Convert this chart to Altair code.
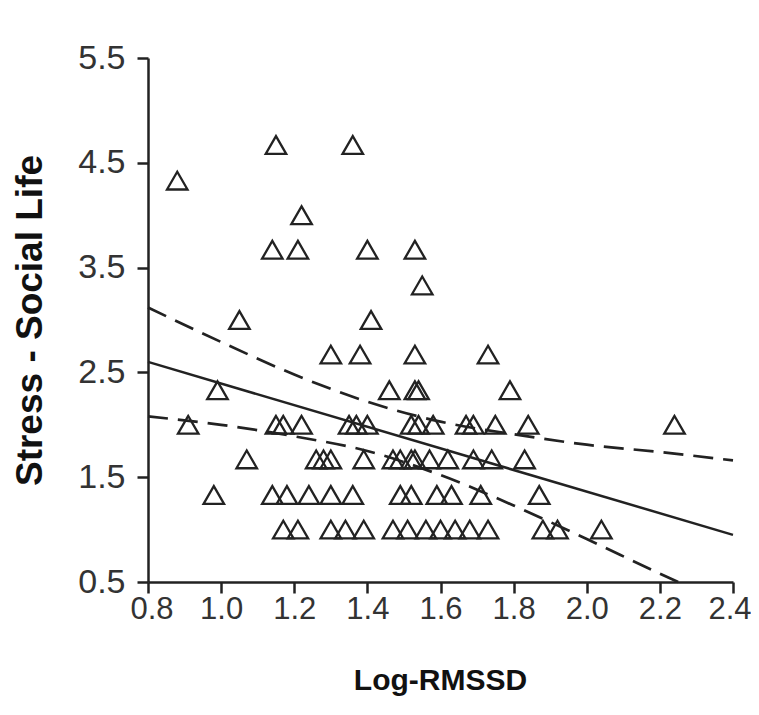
import altair as alt
import pandas as pd

# Scatter points (Log-RMSSD, Stress - Social Life)
log_rmssd = [
    1.15, 1.36,
    0.88,
    1.22,
    1.14, 1.21, 1.40, 1.53,
    1.55,
    1.05, 1.41,
    1.30, 1.38, 1.53, 1.73,
    0.99, 1.46, 1.53, 1.54, 1.79,
    0.91, 1.15, 1.17, 1.22, 1.35, 1.37, 1.40, 1.52, 1.54, 1.58, 1.67, 1.69, 1.75, 1.84, 2.24,
    1.07, 1.26, 1.28, 1.30, 1.39, 1.47, 1.49, 1.52, 1.53, 1.57, 1.62, 1.69, 1.74, 1.83,
    0.98, 1.14, 1.18, 1.24, 1.30, 1.36, 1.49, 1.52, 1.59, 1.63, 1.71, 1.87,
    1.17, 1.21, 1.30, 1.34, 1.39, 1.47, 1.51, 1.56, 1.60, 1.64, 1.68, 1.73, 1.88, 1.92, 2.04,
]
stress = [
    4.67, 4.67,
    4.33,
    4.00,
    3.67, 3.67, 3.67, 3.67,
    3.33,
    3.00, 3.00,
    2.67, 2.67, 2.67, 2.67,
    2.33, 2.33, 2.33, 2.33, 2.33,
    2.00, 2.00, 2.00, 2.00, 2.00, 2.00, 2.00, 2.00, 2.00, 2.00, 2.00, 2.00, 2.00, 2.00, 2.00,
    1.67, 1.67, 1.67, 1.67, 1.67, 1.67, 1.67, 1.67, 1.67, 1.67, 1.67, 1.67, 1.67, 1.67,
    1.33, 1.33, 1.33, 1.33, 1.33, 1.33, 1.33, 1.33, 1.33, 1.33, 1.33, 1.33,
    1.00, 1.00, 1.00, 1.00, 1.00, 1.00, 1.00, 1.00, 1.00, 1.00, 1.00, 1.00, 1.00, 1.00, 1.00,
]

# Regression line and confidence band
fit_x = [0.8, 2.4]
fit_y = [2.60, 0.95]
upper_x = [0.8, 1.0, 1.2, 1.4, 1.6, 1.8, 2.0, 2.2, 2.4]
upper_y = [3.12, 2.79, 2.48, 2.22, 2.03, 1.91, 1.81, 1.74, 1.66]
lower_x = [0.8, 1.0, 1.2, 1.4, 1.6, 1.8, 2.0, 2.2, 2.25]
lower_y = [2.08, 2.00, 1.89, 1.75, 1.52, 1.23, 0.91, 0.58, 0.50]

x_ticks = [0.8, 1.0, 1.2, 1.4, 1.6, 1.8, 2.0, 2.2, 2.4]
y_ticks = [0.5, 1.5, 2.5, 3.5, 4.5, 5.5]

pts = pd.DataFrame({"x": log_rmssd, "y": stress})
fit = pd.DataFrame({"x": fit_x, "y": fit_y})
up = pd.DataFrame({"x": upper_x, "y": upper_y})
lo = pd.DataFrame({"x": lower_x, "y": lower_y})

FONT = "Liberation Sans"
INK = "#222222"

xs = alt.Scale(domain=[0.8, 2.4], nice=False, zero=False)
ys = alt.Scale(domain=[0.5, 5.5], nice=False, zero=False)

x_axis = alt.Axis(
    values=x_ticks, format=".1f", title="Log-RMSSD",
    labelFlush=True, labelFlushOffset=18, labelFontSize=31, labelPadding=1,
    titleFontSize=30,
    titleX=292, titleY=98, titleAlign="center", titleBaseline="middle",
)
y_axis = alt.Axis(
    values=y_ticks, format=".1f", title="Stress - Social Life",
    labelFlush=False, labelFontSize=34, labelPadding=12,
    titleFontSize=37,
    titleX=-118, titleY=262, titleAngle=-90, titleAlign="center", titleBaseline="middle",
)

points = alt.Chart(pts).mark_point(
    shape="triangle-up", size=420, filled=False, stroke=INK, strokeWidth=2.3, opacity=1
).encode(
    x=alt.X("x:Q", scale=xs, axis=x_axis),
    y=alt.Y("y:Q", scale=ys, axis=y_axis),
)

fit_line = alt.Chart(fit).mark_line(color=INK, strokeWidth=2.5).encode(
    x=alt.X("x:Q", scale=xs), y=alt.Y("y:Q", scale=ys)
)
up_line = alt.Chart(up).mark_line(
    color=INK, strokeWidth=2.7, strokeDash=[20, 10], interpolate="monotone"
).encode(x=alt.X("x:Q", scale=xs), y=alt.Y("y:Q", scale=ys))
lo_line = alt.Chart(lo).mark_line(
    color=INK, strokeWidth=2.7, strokeDash=[20, 10], interpolate="monotone"
).encode(x=alt.X("x:Q", scale=xs), y=alt.Y("y:Q", scale=ys))

chart = alt.layer(points, fit_line, up_line, lo_line).properties(
    width=585, height=524,
    autosize=alt.AutoSizeParams(type="none"),
    padding={"left": 140, "top": 50, "right": 18, "bottom": 125},
).configure_view(stroke=None).configure_axis(
    grid=False,
    domainColor=INK, domainWidth=2.5,
    tickColor=INK, tickWidth=2.5, tickSize=11,
    labelFont=FONT, labelColor="#333333",
    titleFont=FONT, titleFontWeight="bold", titleColor="#111111",
)

chart.save("out.html", embed_options={"renderer": "svg", "actions": False})
